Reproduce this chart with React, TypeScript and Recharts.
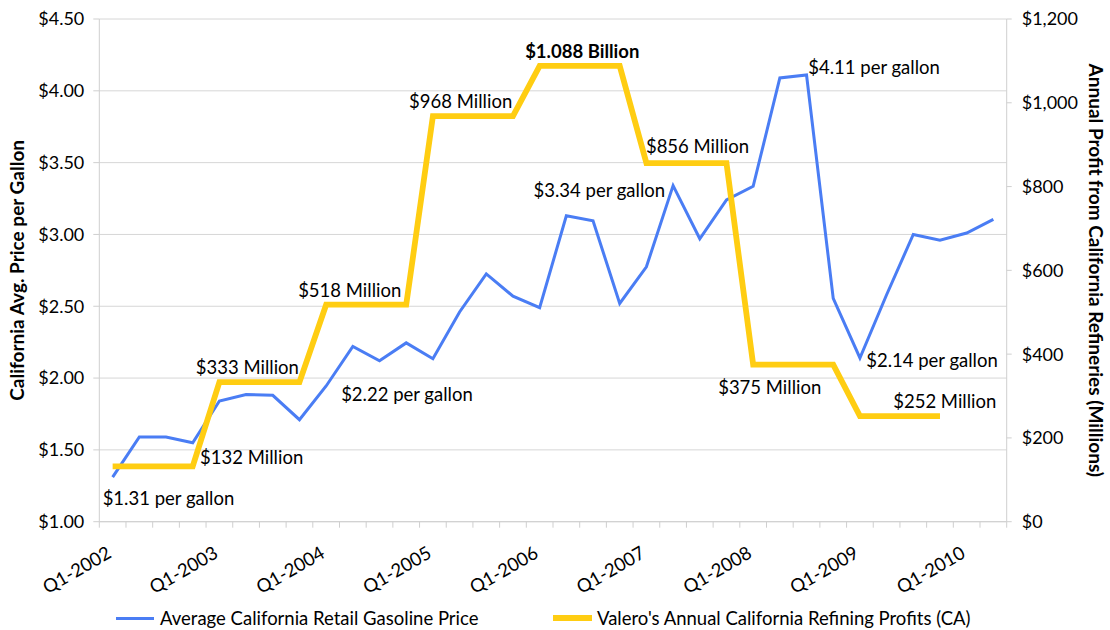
import React from 'react';
import { LineChart, Line, XAxis, YAxis, CartesianGrid, LabelList, Label } from 'recharts';

// ---------- data ----------
const quarters = [
  'Q1-2002', 'Q2-2002', 'Q3-2002', 'Q4-2002',
  'Q1-2003', 'Q2-2003', 'Q3-2003', 'Q4-2003',
  'Q1-2004', 'Q2-2004', 'Q3-2004', 'Q4-2004',
  'Q1-2005', 'Q2-2005', 'Q3-2005', 'Q4-2005',
  'Q1-2006', 'Q2-2006', 'Q3-2006', 'Q4-2006',
  'Q1-2007', 'Q2-2007', 'Q3-2007', 'Q4-2007',
  'Q1-2008', 'Q2-2008', 'Q3-2008', 'Q4-2008',
  'Q1-2009', 'Q2-2009', 'Q3-2009', 'Q4-2009',
  'Q1-2010', 'Q2-2010',
];

const gasPrice = [
  1.31, 1.59, 1.59, 1.55,
  1.84, 1.885, 1.88, 1.71,
  1.945, 2.22, 2.12, 2.245,
  2.135, 2.46, 2.725, 2.57,
  2.49, 3.13, 3.095, 2.52,
  2.775, 3.34, 2.97, 3.24,
  3.335, 4.09, 4.11, 2.555,
  2.14, 2.58, 3.0, 2.96,
  3.01, 3.105,
];

const profitYears = [2002, 2003, 2004, 2005, 2006, 2007, 2008, 2009];
const valeroProfit = [132, 333, 518, 968, 1088, 856, 375, 252];

const priceTicks = [1, 1.5, 2, 2.5, 3, 3.5, 4, 4.5];
const profitTicks = [0, 200, 400, 600, 800, 1000, 1200];

const priceNoteIndex = [0, 9, 21, 26, 28];
const priceNoteText = ['$1.31 per gallon', '$2.22 per gallon', '$3.34 per gallon', '$4.11 per gallon', '$2.14 per gallon'];

const profitNoteIndex = [3, 4, 8, 12, 16, 20, 24, 28];
const profitNoteText = ['$132 Million', '$333 Million', '$518 Million', '$968 Million', '$1.088 Billion', '$856 Million', '$375 Million', '$252 Million'];

const seriesNames = ['Average California Retail Gasoline Price', "Valero's Annual California Refining Profits (CA)"];
const leftTitle = 'California Avg. Price per Gallon';
const rightTitle = 'Annual Profit from California Refineries (Millions)';

const chartData = quarters.map((q, i) => {
  const k = profitYears.indexOf(Number(q.slice(3)));
  return { q, price: gasPrice[i], profit: k >= 0 ? valeroProfit[k] : null };
});

// ---------- styles / layout ----------
const W = 1110;
const H = 630;
const PLOT_LEFT = 99.3;
const PLOT_RIGHT = 1006.7;
const PLOT_TOP = 19;
const PLOT_BOTTOM = 521.7;
const BAND = (PLOT_RIGHT - PLOT_LEFT) / quarters.length;
const FONT = 'Lato, "Open Sans", sans-serif';
const BLUE = '#4A7DF4';
const GOLD = '#FFCD12';
const AXIS_GRAY = '#cfcfcf';
const GRID_GRAY = '#d6d6d6';
const X_TICK_SIZE = 6;
const X_TICK_MARGIN = 2;

// label placement relative to the data point (dx, dy to text centre)
const priceNoteStyle = [
  { dx: -10, dy: 21.6, anchor: 'start' },
  { dx: -11.7, dy: 47.8, anchor: 'start' },
  { dx: -8, dy: 4.4, anchor: 'end' },
  { dx: 1.7, dy: -7.3, anchor: 'start' },
  { dx: 6.3, dy: 2, anchor: 'start' },
];
const profitNoteStyle = [
  { dx: 7.4, dy: -8.7, anchor: 'start', bold: false },
  { dx: -23.6, dy: -14.5, anchor: 'start', bold: false },
  { dx: -28, dy: -14.7, anchor: 'start', bold: false },
  { dx: -23.8, dy: -15.2, anchor: 'start', bold: false },
  { dx: -14.5, dy: -14.9, anchor: 'start', bold: true },
  { dx: -0.5, dy: -16.4, anchor: 'start', bold: false },
  { dx: -35, dy: 23.1, anchor: 'start', bold: false },
  { dx: 33.3, dy: -15.1, anchor: 'start', bold: false },
];

const LABEL_SIZE = 18.5;

const makeNoteRenderer = (indices: number[], texts: string[], styles: any[]) => (props: any) => {
  const { x, y, index } = props;
  const k = indices.indexOf(index);
  if (k < 0 || x == null || y == null) return null;
  const s = styles[k];
  return (
    <text
      key={`note-${index}`}
      x={x + s.dx}
      y={y + s.dy}
      dy="0.36em"
      textAnchor={s.anchor}
      fontFamily={FONT}
      fontSize={LABEL_SIZE}
      fontWeight={s.bold ? 700 : 400}
      fill="#000"
    >
      {texts[k]}
    </text>
  );
};

const renderPriceNote = makeNoteRenderer(priceNoteIndex, priceNoteText, priceNoteStyle);
const renderProfitNote = makeNoteRenderer(profitNoteIndex, profitNoteText, profitNoteStyle);

const QuarterTick = (props: any) => {
  const { x, y, payload } = props;
  const label = String(payload.value);
  const idx = quarters.indexOf(label);
  const axisY = y - X_TICK_SIZE - X_TICK_MARGIN;
  const lx = x;
  const ly = axisY + 35;
  return (
    <g>
      <line x1={x - BAND / 2} x2={x - BAND / 2} y1={axisY} y2={axisY + 6} stroke={AXIS_GRAY} />
      {idx === quarters.length - 1 && (
        <line x1={x + BAND / 2} x2={x + BAND / 2} y1={axisY} y2={axisY + 6} stroke={AXIS_GRAY} />
      )}
      {label.startsWith('Q1') && (
        <text
          x={lx}
          y={ly}
          textAnchor="end"
          transform={`rotate(-30 ${lx} ${ly})`}
          fontFamily={FONT}
          fontSize={18.5}
          fill="#000"
        >
          {label}
        </text>
      )}
    </g>
  );
};

const fmtPrice = (v: number) => `$${v.toFixed(2)}`;
const fmtProfit = (v: number) => {
  const s = String(Math.round(v));
  return '$' + (s.length > 3 ? s.slice(0, s.length - 3) + ',' + s.slice(-3) : s);
};

const LeftTitle = (props: any) => {
  const vb = props.viewBox || { x: 0, y: PLOT_TOP, width: PLOT_LEFT, height: PLOT_BOTTOM - PLOT_TOP };
  const cx = vb.x + 17;
  const cy = vb.y + vb.height / 2;
  return (
    <text x={cx} y={cy} dy="0.36em" textAnchor="middle" transform={`rotate(-90 ${cx} ${cy})`}
      fontFamily={FONT} fontSize={19} fontWeight={700} fill="#000">
      {leftTitle}
    </text>
  );
};

const RightTitle = (props: any) => {
  const vb = props.viewBox || { x: PLOT_RIGHT, y: PLOT_TOP, width: W - PLOT_RIGHT, height: PLOT_BOTTOM - PLOT_TOP };
  const cx = vb.x + 89.3;
  const cy = vb.y + vb.height / 2;
  return (
    <text x={cx} y={cy} dy="0.36em" textAnchor="middle" transform={`rotate(90 ${cx} ${cy})`}
      fontFamily={FONT} fontSize={19} fontWeight={700} fill="#000">
      {rightTitle}
    </text>
  );
};

export default function App() {
  return (
    <div style={{ position: 'absolute', left: 0, top: 0, width: W, height: H, background: '#fff' }}>
      <LineChart
        width={W}
        height={H}
        data={chartData}
        margin={{ top: PLOT_TOP, right: 0, bottom: 0, left: 0 }}
      >
        <CartesianGrid yAxisId="left" vertical={false} stroke={GRID_GRAY} />
        <XAxis
          dataKey="q"
          scale="band"
          interval={0}
          tick={<QuarterTick />}
          tickLine={false}
          tickSize={X_TICK_SIZE}
          tickMargin={X_TICK_MARGIN}
          axisLine={{ stroke: AXIS_GRAY }}
          height={H - PLOT_BOTTOM}
        />
        <YAxis
          yAxisId="left"
          orientation="left"
          width={PLOT_LEFT}
          domain={[1, 4.5]}
          ticks={priceTicks}
          tickFormatter={fmtPrice}
          tickSize={6}
          tickMargin={9}
          tickLine={{ stroke: AXIS_GRAY }}
          axisLine={{ stroke: AXIS_GRAY }}
          tick={{ fontFamily: FONT, fontSize: 18, fill: '#000' }}
          interval={0}
        >
          <Label content={<LeftTitle />} />
        </YAxis>
        <YAxis
          yAxisId="right"
          orientation="right"
          width={W - PLOT_RIGHT}
          domain={[0, 1200]}
          ticks={profitTicks}
          tickFormatter={fmtProfit}
          tickSize={5}
          tickMargin={10}
          tickLine={{ stroke: AXIS_GRAY }}
          axisLine={{ stroke: AXIS_GRAY }}
          tick={{ fontFamily: FONT, fontSize: 18, fill: '#000' }}
          interval={0}
        >
          <Label content={<RightTitle />} />
        </YAxis>
        <Line
          yAxisId="left"
          type="linear"
          dataKey="price"
          name={seriesNames[0]}
          stroke={BLUE}
          strokeWidth={3}
          dot={false}
          activeDot={false}
          isAnimationActive={false}
        >
          <LabelList dataKey="price" content={renderPriceNote} />
        </Line>
        <Line
          yAxisId="right"
          type="linear"
          dataKey="profit"
          name={seriesNames[1]}
          stroke={GOLD}
          strokeWidth={5.8}
          dot={false}
          activeDot={false}
          isAnimationActive={false}
        >
          <LabelList dataKey="profit" content={renderProfitNote} />
        </Line>
      </LineChart>
      <div style={{ position: 'absolute', left: 0, top: 606, width: W, height: 24, fontFamily: FONT, fontSize: 18.5, color: '#000' }}>
        <div style={{ position: 'absolute', left: 116, top: 10.5, width: 38, height: 3, background: BLUE }} />
        <div style={{ position: 'absolute', left: 160, top: 0, lineHeight: '24px', whiteSpace: 'nowrap' }}>{seriesNames[0]}</div>
        <div style={{ position: 'absolute', left: 553, top: 9, width: 39, height: 6, background: GOLD }} />
        <div style={{ position: 'absolute', left: 597, top: 0, lineHeight: '24px', whiteSpace: 'nowrap' }}>{seriesNames[1]}</div>
      </div>
    </div>
  );
}
